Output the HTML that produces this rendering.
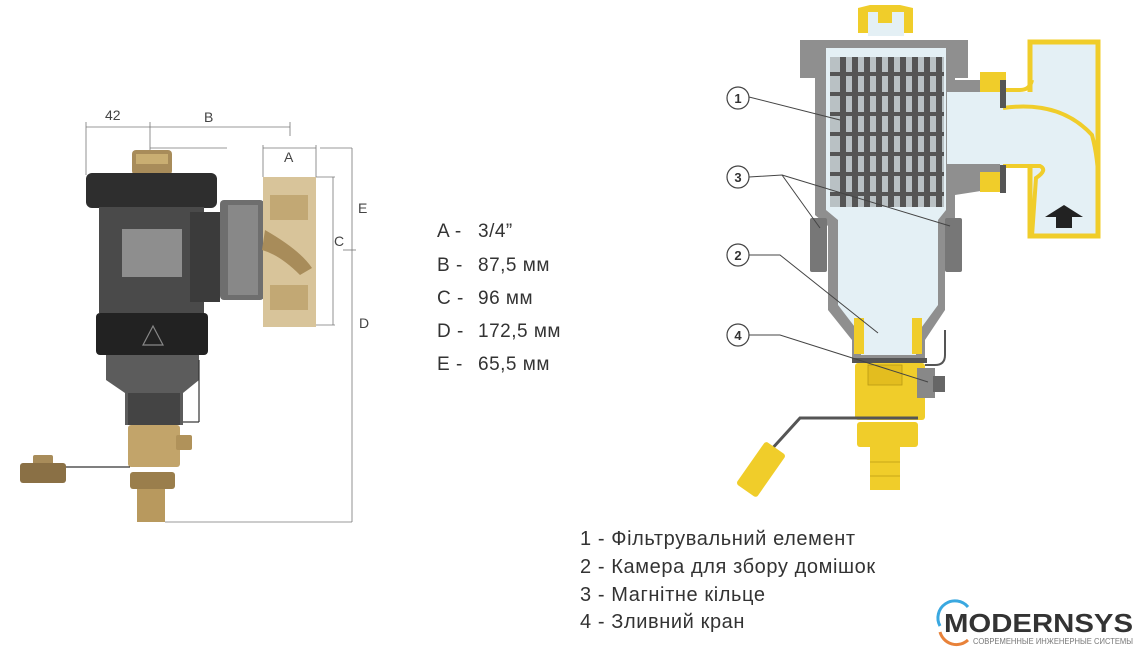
<!DOCTYPE html>
<html><head><meta charset="utf-8"><style>
html,body{margin:0;padding:0;background:#fff;}
svg{display:block}
text{font-family:"Liberation Sans","DejaVu Sans",sans-serif;}
</style></head><body>
<svg width="1136" height="647" viewBox="0 0 1136 647" xmlns="http://www.w3.org/2000/svg">
<rect width="1136" height="647" fill="#fff"/>
<!-- LEFT DIMENSIONS -->
<g stroke="#777" stroke-width="0.8" fill="none">
<line x1="86" y1="127" x2="290" y2="127"/>
<line x1="86" y1="122" x2="86" y2="175"/>
<line x1="150" y1="122" x2="150" y2="150"/>
<line x1="290" y1="122" x2="290" y2="136"/>
<line x1="150" y1="148" x2="227" y2="148"/>
<line x1="263" y1="148" x2="316" y2="148"/>
<line x1="263" y1="145" x2="263" y2="177"/>
<line x1="316" y1="145" x2="316" y2="177"/>
<line x1="320" y1="148" x2="352" y2="148"/>
<line x1="352" y1="148" x2="352" y2="522"/>
<line x1="316" y1="177" x2="335" y2="177"/>
<line x1="316" y1="325" x2="335" y2="325"/>
<line x1="333" y1="177" x2="333" y2="325"/>
<line x1="343" y1="250" x2="356" y2="250"/>
<line x1="165" y1="522" x2="352" y2="522"/>
</g>
<g font-size="14" fill="#444">
<text x="105" y="120">42</text>
<text x="204" y="122">B</text>
<text x="284" y="162">A</text>
<text x="358" y="213">E</text>
<text x="334" y="246">C</text>
<text x="359" y="328">D</text>
</g>
<!-- LEFT DEVICE -->
<g>
<rect x="132" y="150" width="40" height="25" rx="4" fill="#a88c5a"/>
<rect x="136" y="154" width="32" height="10" fill="#c9ae72"/>
<rect x="86" y="173" width="131" height="35" rx="6" fill="#2e2e2e"/>
<rect x="99" y="207" width="105" height="106" fill="#4a4a4a"/>
<rect x="122" y="229" width="60" height="48" fill="#8e8e8e"/>
<rect x="190" y="212" width="30" height="90" fill="#3b3b3b"/>
<rect x="220" y="200" width="44" height="100" rx="4" fill="#6e6e6e"/>
<rect x="228" y="205" width="30" height="90" fill="#9a9a9a" opacity="0.6"/>
<rect x="263" y="177" width="53" height="150" fill="#d8c49a"/>
<rect x="270" y="195" width="38" height="25" fill="#c2a874"/>
<rect x="270" y="285" width="38" height="25" fill="#c2a874"/>
<path d="M265 230 Q300 250 312 268 L300 275 Q280 255 262 250 Z" fill="#a88c5a"/>
<rect x="96" y="313" width="112" height="42" rx="4" fill="#222"/>
<path d="M143 345 L153 326 L163 345 Z" fill="none" stroke="#888" stroke-width="1.2"/>
<path d="M106 355 L199 355 L199 380 L183 393 L183 425 L125 425 L125 393 L106 380 Z" fill="#5c5c5c"/>
<rect x="128" y="393" width="52" height="32" fill="#444"/>
<line x1="199" y1="360" x2="199" y2="422" stroke="#333" stroke-width="1.2"/>
<line x1="183" y1="422" x2="199" y2="422" stroke="#333" stroke-width="1.2"/>
<rect x="128" y="425" width="52" height="42" rx="3" fill="#c2a46a"/>
<rect x="176" y="435" width="16" height="15" rx="2" fill="#b0925a"/>
<rect x="130" y="472" width="45" height="17" rx="3" fill="#9a7e4c"/>
<rect x="137" y="489" width="28" height="33" fill="#b8995e"/>
<line x1="66" y1="467" x2="130" y2="467" stroke="#333" stroke-width="1.2"/>
<rect x="33" y="455" width="20" height="10" rx="2" fill="#a88c5a"/>
<rect x="20" y="463" width="46" height="20" rx="3" fill="#8a7045"/>
</g>
<!-- LEFT TABLE -->
<g font-size="19" fill="#333" letter-spacing="0.5">
<text x="437" y="237">A -</text><text x="478" y="237">3/4”</text>
<text x="437" y="271">B -</text><text x="478" y="271">87,5 мм</text>
<text x="437" y="304">C -</text><text x="478" y="304">96 мм</text>
<text x="437" y="337">D -</text><text x="478" y="337">172,5 мм</text>
<text x="437" y="370">E -</text><text x="478" y="370">65,5 мм</text>
</g>
<!-- RIGHT DEVICE -->
<g>
<path d="M858 33 L858 8 L870 5 L885 5 L900 5 L913 8 L913 33 Z" fill="#f0cd2a"/>
<rect x="868" y="12" width="36" height="24" fill="#e4f0f5"/>
<rect x="878" y="5" width="14" height="18" fill="#f0cd2a"/>
<path d="M800 40 L968 40 L968 78 L955 78 L955 80 L1000 80 L1000 188 L955 195 L955 218 L945 226 L945 310 L925 340 L925 360 L852 360 L852 340 L828 310 L828 226 L815 215 L815 78 L800 78 Z" fill="#8f8f8f"/>
<path d="M826 48 L946 48 L946 210 L938 220 L938 305 L916 335 L916 355 L861 355 L861 335 L838 305 L838 220 L826 210 Z" fill="#e4f0f5"/>
<rect x="947" y="92" width="60" height="72" fill="#e4f0f5"/>
<!-- filter grid -->
<g fill="#555">
<rect x="830" y="57" width="114" height="150" fill="#6a6a6a" opacity="0.35"/>
<rect x="840" y="57" width="6" height="150"/><rect x="852" y="57" width="6" height="150"/><rect x="864" y="57" width="6" height="150"/>
<rect x="876" y="57" width="6" height="150"/><rect x="888" y="57" width="6" height="150"/><rect x="900" y="57" width="6" height="150"/>
<rect x="912" y="57" width="6" height="150"/><rect x="924" y="57" width="6" height="150"/><rect x="936" y="57" width="6" height="150"/>
<rect x="830" y="72" width="114" height="4"/><rect x="830" y="92" width="114" height="4"/><rect x="830" y="112" width="114" height="4"/>
<rect x="830" y="132" width="114" height="4"/><rect x="830" y="152" width="114" height="4"/><rect x="830" y="172" width="114" height="4"/><rect x="830" y="192" width="114" height="4"/>
</g>
<!-- magnets -->
<rect x="810" y="218" width="17" height="54" rx="2" fill="#777"/>
<rect x="945" y="218" width="17" height="54" rx="2" fill="#777"/>
<rect x="854" y="318" width="10" height="36" fill="#f0cd2a"/>
<rect x="912" y="318" width="10" height="36" fill="#f0cd2a"/>
<!-- pipe fitting -->
<rect x="1030" y="42" width="68" height="194" fill="#e4f0f5" stroke="#f0cd2a" stroke-width="5"/>
<rect x="1000" y="92" width="34" height="73" fill="#e4f0f5"/>
<g fill="none" stroke="#f0cd2a" stroke-width="4">
<path d="M1003 90 L1020 90 Q1030 90 1032 80"/>
<path d="M1003 108 Q1060 100 1092 135 Q1100 165 1098 200"/>
<path d="M1003 166 L1040 166 Q1048 170 1036 178 L1032 236"/>
</g>
<rect x="980" y="72" width="26" height="20" fill="#f0cd2a"/>
<rect x="980" y="172" width="26" height="20" fill="#f0cd2a"/>
<rect x="1000" y="80" width="6" height="28" fill="#555"/>
<rect x="1000" y="165" width="6" height="28" fill="#555"/>
<path d="M1045 217 L1064 205 L1083 217 L1072 217 L1072 228 L1056 228 L1056 217 Z" fill="#222"/>
<!-- valve -->
<rect x="852" y="358" width="75" height="5" fill="#555"/>
<rect x="855" y="363" width="70" height="57" rx="3" fill="#f0cd2a"/>
<rect x="868" y="365" width="34" height="20" fill="#e3bd1f" stroke="#b89a14" stroke-width="0.8"/>
<rect x="917" y="368" width="18" height="30" fill="#888"/>
<rect x="933" y="376" width="12" height="16" fill="#666"/>
<path d="M945 330 L945 355 Q945 365 935 365 L925 365" fill="none" stroke="#555" stroke-width="2"/>
<rect x="857" y="422" width="61" height="25" rx="3" fill="#f0cd2a"/>
<rect x="870" y="447" width="30" height="43" fill="#f0cd2a"/>
<line x1="870" y1="462" x2="900" y2="462" stroke="#c9a818"/><line x1="870" y1="476" x2="900" y2="476" stroke="#c9a818"/>
<path d="M918 418 L800 418 L780 440 L748 475" fill="none" stroke="#555" stroke-width="3"/>
<g transform="rotate(-55 760 470)"><rect x="735" y="458" width="52" height="25" rx="3" fill="#f0cd2a"/></g>
</g>
<!-- callouts -->
<g stroke="#444" stroke-width="1" fill="none">
<line x1="749" y1="97" x2="840" y2="120"/>
<polyline points="749,177 782,175 820,228"/>
<line x1="782" y1="175" x2="950" y2="226"/>
<polyline points="749,255 780,255 878,333"/>
<polyline points="749,335 780,335 928,382"/>
</g>
<g stroke="#444" stroke-width="1.2" fill="#fff">
<circle cx="738" cy="98" r="11"/><circle cx="738" cy="177" r="11"/>
<circle cx="738" cy="255" r="11"/><circle cx="738" cy="335" r="11"/>
</g>
<g font-size="13" fill="#333" text-anchor="middle" font-weight="bold">
<text x="738" y="103">1</text><text x="738" y="182">3</text><text x="738" y="260">2</text><text x="738" y="340">4</text>
</g>
<g font-size="20" fill="#333" letter-spacing="0.6">
<text x="580" y="545">1 - Фільтрувальний елемент</text>
<text x="580" y="573">2 - Камера для збору домішок</text>
<text x="580" y="601">3 - Магнітне кільце</text>
<text x="580" y="628">4 - Зливний кран</text>
</g>
<!-- logo -->
<path d="M940 626 A17 17 0 0 1 968 607" fill="none" stroke="#3aa8e0" stroke-width="3"/>
<path d="M940 632 A17 17 0 0 0 968 640" fill="none" stroke="#e8823a" stroke-width="3"/>
<text x="944" y="632" font-size="26" font-weight="bold" fill="#333" textLength="189" lengthAdjust="spacingAndGlyphs">MODERNSYS</text>
<text x="973" y="644" font-size="8" fill="#777" textLength="160" lengthAdjust="spacingAndGlyphs">СОВРЕМЕННЫЕ ИНЖЕНЕРНЫЕ СИСТЕМЫ</text>
</svg>
</body></html>
